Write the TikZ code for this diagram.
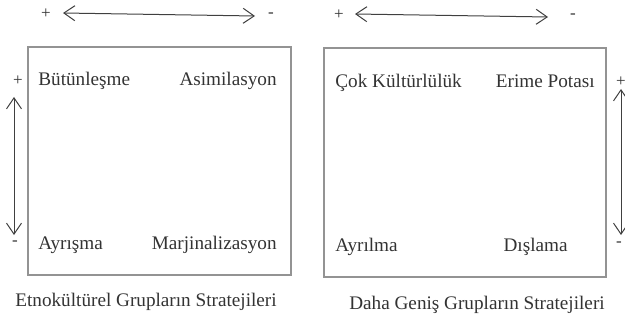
\documentclass[tikz,border=0pt]{standalone}
\usepackage{fontspec}
\setmainfont{Liberation Serif}
\usetikzlibrary{arrows.meta}
\tikzset{quad/.style={draw=gray!85,line width=0.6pt},
  cell/.style={anchor=base,inner sep=0pt,text=black!80,font=\fontsize{9.6}{11}\selectfont},
  sign/.style={inner sep=0pt,text=black!80,font=\fontsize{8.5}{10}\selectfont},
  axis/.style={{Straight Barb[length=5.5pt,width=7.5pt]}-{Straight Barb[length=5.5pt,width=7.5pt]},line width=0.5pt,draw=black!75}}

\begin{document}
\begin{tikzpicture}[x=0.5pt,y=-0.5pt]
\useasboundingbox (0,0) rectangle (625,326);
% the two boxes
\coordinate (lnw) at (28,47);
\coordinate (lse) at (291,275);
\coordinate (rnw) at (324,48);
\coordinate (rse) at (606,277);
\draw[quad] (lnw) rectangle (lse);
\draw[quad] (rnw) rectangle (rse);
% left box
\node[cell,anchor=base west] (but) at (38,86) {Bütünleşme};
\node[cell,anchor=base east] (asi) at (277,86) {Asimilasyon};
\node[cell,anchor=base west] (ayr) at (38,249) {Ayrışma};
\node[cell,anchor=base east] (mar) at (277,249) {Marjinalizasyon};
\node[cell] (lcap) at (146,306) {Etnokültürel Grupların Stratejileri};
% right box
\node[cell,anchor=base west] (cok) at (335,88) {Çok Kültürlülük};
\node[cell,anchor=base east] (eri) at (595,88) {Erime Potası};
\node[cell,anchor=base west] (ayl) at (335,251) {Ayrılma};
\node[cell,anchor=base east] (dis) at (568,251) {Dışlama};
\node[cell] (rcap) at (477,309) {Daha Geniş Grupların Stratejileri};
% top arrows
\node[sign] (tlp) at (46,14) {+};
\node[sign] (tlm) at (271,15) {-};
\coordinate (tla) at (63,13);
\coordinate (tlb) at (255,16);
\draw[axis] (tla) -- (tlb);
\node[sign] (trp) at (339,15) {+};
\node[sign] (trm) at (573,16) {-};
\coordinate (tra) at (355,14);
\coordinate (trb) at (548,17);
\draw[axis] (tra) -- (trb);
% side arrows
\node[sign] (slp) at (18,81) {+};
\node[sign] (slm) at (15,243) {-};
\coordinate (sla) at (14,97);
\coordinate (slb) at (14,235);
\draw[axis] (sla) -- (slb);
\node[sign] (srp) at (621,82) {+};
\node[sign] (srm) at (619,244) {-};
\coordinate (sra) at (621,89);
\coordinate (srb) at (621,235);
\draw[axis] (sra) -- (srb);
\end{tikzpicture}
\end{document}
